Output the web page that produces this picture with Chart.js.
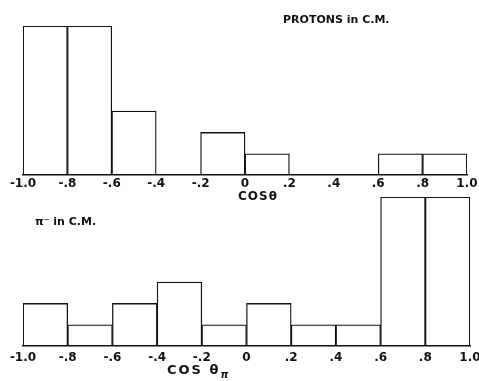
<!DOCTYPE html>
<html>
<head>
<meta charset="utf-8">
<script src="https://cdn.jsdelivr.net/npm/chart.js@4"></script>
<style>
  html, body { margin: 0; padding: 0; background: #fff; }
  .box { position: absolute; left: 0; width: 479px; }
  #top { top: 0; height: 210px; }
  #bottom { top: 190px; height: 191px; }
</style>
</head>
<body>
<div class="box" id="top"><canvas id="protonChart"></canvas></div>
<div class="box" id="bottom"><canvas id="pionChart"></canvas></div>
<script>
// histogram bins of cos(theta), 0.2 wide
const binCenters = [-0.9, -0.7, -0.5, -0.3, -0.1, 0.1, 0.3, 0.5, 0.7, 0.9];
const protonCounts = [7, 7, 3, 0, 2, 1, 0, 0, 1, 1];
const pionCounts = [2, 1, 2, 3, 1, 2, 1, 1, 7, 7];
const tickLabels = ['-1.0', '-.8', '-.6', '-.4', '-.2', '0', '.2', '.4', '.6', '.8', '1.0'];

const ink = '#111';
const tickFont = { family: 'DejaVu Sans', weight: 'bold', size: 12 };

// free text (titles) drawn on top of the chart
const textPlugin = {
  id: 'notes',
  afterDraw(chart, args, opts) {
    const ctx = chart.ctx;
    ctx.save();
    ctx.fillStyle = ink;
    ctx.textBaseline = 'middle';
    ctx.textAlign = 'left';
    opts.items.forEach(t => {
      ctx.font = t.font;
      ctx.letterSpacing = t.spacing || '0px';
      let x = t.x;
      if (t.center) x -= ctx.measureText(t.text).width / 2;
      ctx.fillText(t.text, x, t.y);
      if (t.sub) {
        const w = ctx.measureText(t.text).width;
        ctx.font = t.subFont;
        ctx.letterSpacing = '0px';
        ctx.fillText(t.sub, x + w, t.y + 4);
      }
    });
    ctx.restore();
  }
};

function histogram(id, counts, padding, tickPad, notes) {
  new Chart(document.getElementById(id), {
    type: 'bar',
    data: {
      datasets: [{
        data: binCenters.map((x, i) => ({ x: x, y: counts[i] })),
        backgroundColor: '#fff',
        borderColor: ink,
        borderWidth: 1.3,
        borderSkipped: false,
        barPercentage: 1,
        categoryPercentage: 1
      }]
    },
    options: {
      responsive: true,
      maintainAspectRatio: false,
      animation: false,
      layout: { padding: padding },
      plugins: {
        legend: { display: false },
        tooltip: { enabled: false },
        notes: { items: notes }
      },
      scales: {
        x: {
          type: 'linear',
          min: -1,
          max: 1,
          offset: false,
          grid: { display: false, drawTicks: false },
          border: { display: true, color: ink, width: 1.5 },
          ticks: {
            stepSize: 0.2,
            autoSkip: false,
            maxRotation: 0,
            padding: tickPad,
            color: ink,
            font: tickFont,
            callback: (v, i) => tickLabels[i]
          },
          afterFit: scale => {
            scale.height = 20;
            scale.paddingLeft = 0;
            scale.paddingRight = 0;
          }
        },
        y: {
          display: false,
          min: 0,
          max: 7
        }
      }
    },
    plugins: [textPlugin]
  });
}

histogram('protonChart', protonCounts, { top: 26, left: 23, right: 12, bottom: 15 }, 2, [
  { text: 'PROTONS in C.M.', x: 283, y: 20, font: 'bold 11px "DejaVu Sans"' },
  { text: 'COSθ', x: 258, y: 197, center: true, font: 'bold 12px "DejaVu Sans"', spacing: '1px' }
]);

histogram('pionChart', pionCounts, { top: 7, left: 23, right: 9, bottom: 15 }, 5, [
  { text: 'π⁻ in C.M.', x: 35, y: 32, font: 'bold 11px "DejaVu Sans"' },
  { text: 'COS θ', x: 167, y: 181, font: 'bold 13px "DejaVu Sans"', spacing: '2px',
    sub: 'π', subFont: 'bold italic 10px "DejaVu Sans"' }
]);
</script>
</body>
</html>
